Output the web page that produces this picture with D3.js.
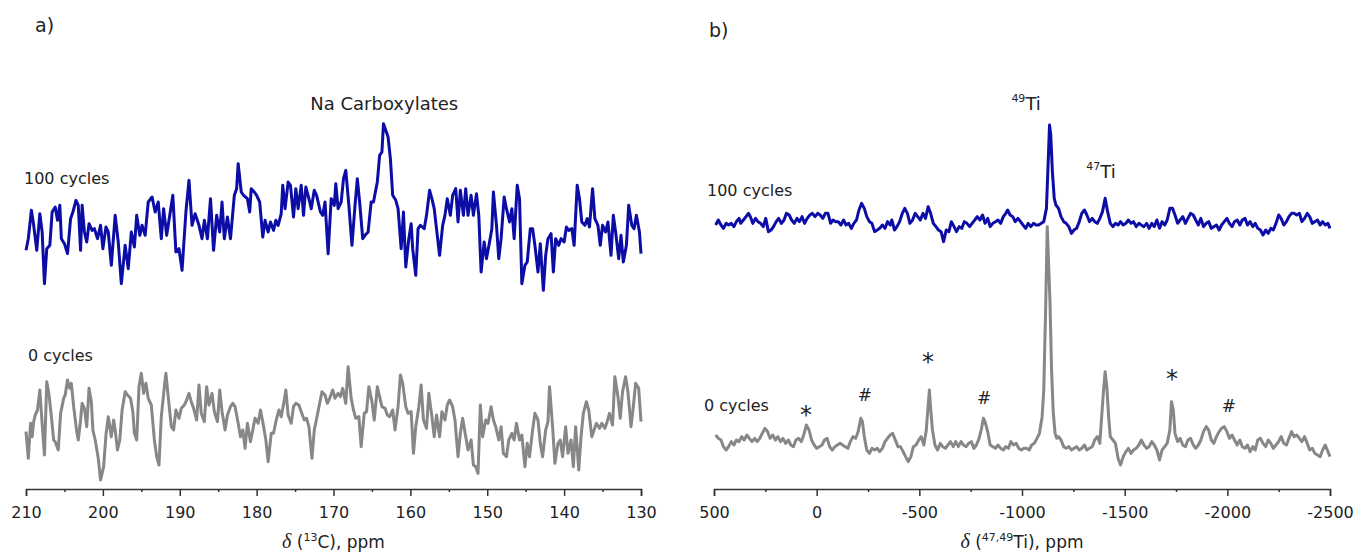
<!DOCTYPE html>
<html>
<head>
<meta charset="utf-8">
<script src="https://cdn.jsdelivr.net/npm/d3@7"></script>
<style>
  body { margin: 0; background: #fff; }
  svg text { font-family: "DejaVu Sans", Verdana, sans-serif; fill: #222; }
</style>
</head>
<body>
<div id="chart"></div>
<script>
// a) 13C spectra, 100 cycles (blue) and 0 cycles (grey)
var c13Ppm100 = [210.0,209.7,209.3,209.0,208.6,208.2,207.9,207.6,207.3,206.9,206.6,206.2,205.9,205.6,205.4,205.0,204.6,204.2,203.9,203.5,203.2,202.9,202.7,202.4,202.1,201.8,201.4,201.1,200.7,200.3,200.0,199.6,199.3,198.9,198.4,198.0,197.6,197.1,196.7,196.3,195.9,195.6,195.2,194.9,194.5,194.1,193.6,193.2,192.8,192.4,192.1,191.7,191.3,190.9,190.5,190.1,189.7,189.2,188.8,188.4,188.0,187.5,187.1,186.8,186.4,186.0,185.6,185.2,184.8,184.5,184.2,183.8,183.4,182.9,182.6,182.4,182.0,181.7,181.2,180.9,180.7,180.3,180.0,179.6,179.2,178.9,178.5,178.2,177.8,177.5,177.2,176.8,176.6,176.3,175.9,175.6,175.2,174.9,174.6,174.2,173.9,173.6,173.2,172.9,172.5,172.2,171.7,171.4,171.1,170.7,170.3,169.9,169.7,169.4,169.0,168.7,168.4,168.0,167.6,167.2,166.9,166.6,166.2,165.9,165.5,165.1,164.8,164.3,164.0,163.7,163.5,163.2,162.9,162.6,162.3,161.9,161.6,161.2,160.9,160.6,160.2,159.9,159.7,159.3,159.0,158.7,158.2,157.9,157.5,157.2,156.9,156.5,156.2,155.8,155.5,155.2,154.8,154.5,154.1,153.8,153.5,153.1,152.8,152.5,152.1,151.8,151.4,151.1,150.8,150.4,150.1,149.7,149.4,149.2,148.8,148.5,148.2,147.8,147.5,147.1,146.8,146.5,146.1,145.8,145.5,145.1,144.8,144.4,144.1,143.8,143.4,143.1,142.7,142.4,142.1,141.7,141.4,141.1,140.7,140.4,140.0,139.7,139.4,139.0,138.7,138.3,138.0,137.7,137.3,137.0,136.7,136.3,136.0,135.6,135.3,135.0,134.6,134.3,133.9,133.6,133.3,132.9,132.6,132.3,131.9,131.6,131.2,130.9,130.6,130.2,130.0];
var c13Int100 = [145,180,265,220,145,255,200,45,150,160,260,275,235,280,180,165,135,240,260,295,280,145,280,200,170,225,205,210,180,220,150,215,200,100,250,170,45,160,90,200,155,250,190,220,190,290,305,260,290,180,270,190,250,310,140,150,85,260,355,220,255,220,180,235,180,300,145,250,200,290,180,245,180,310,330,405,320,310,300,260,330,320,310,290,185,235,200,230,205,235,220,255,340,270,350,340,245,330,270,340,250,335,300,270,325,310,260,250,290,135,300,280,345,270,290,360,385,280,160,280,360,290,180,190,200,290,290,350,430,440,525,505,485,420,310,295,270,150,260,95,180,225,150,70,210,220,210,250,325,300,270,190,130,220,250,300,250,310,330,230,325,250,330,250,310,250,315,250,80,170,120,170,210,320,220,120,180,305,270,230,270,180,340,300,45,100,110,210,210,160,80,165,25,130,180,195,80,180,160,180,170,215,205,210,160,340,300,230,220,240,215,330,240,220,160,220,200,230,130,250,200,120,190,110,160,280,220,210,250,200,135];

var c13Ppm0 = [210.0,209.7,209.4,209.2,209.0,208.8,208.5,208.2,207.9,207.6,207.3,207.0,206.7,206.4,206.2,205.8,205.5,205.1,204.9,204.6,204.3,204.1,203.8,203.4,203.2,202.9,202.7,202.4,202.1,201.8,201.5,201.3,201.0,200.6,200.3,199.9,199.6,199.3,198.9,198.6,198.4,198.1,197.8,197.5,197.1,196.8,196.4,196.1,195.9,195.6,195.3,195.0,194.7,194.4,194.1,193.7,193.3,193.0,192.7,192.4,192.0,191.8,191.5,191.1,190.8,190.5,190.1,189.8,189.4,189.1,188.8,188.5,188.2,187.8,187.5,187.2,186.8,186.5,186.2,185.8,185.5,185.1,184.8,184.5,184.1,183.8,183.4,183.1,182.8,182.4,182.1,181.8,181.5,181.2,180.8,180.5,180.2,179.8,179.5,179.2,178.8,178.5,178.1,177.8,177.5,177.1,176.8,176.4,176.2,175.9,175.5,175.2,174.9,174.5,174.2,173.8,173.5,173.2,172.8,172.5,172.1,171.8,171.5,171.1,170.8,170.5,170.1,169.8,169.4,169.1,168.8,168.4,168.1,167.7,167.4,167.1,166.7,166.4,166.0,165.7,165.4,165.0,164.7,164.3,164.0,163.7,163.3,163.0,162.7,162.3,162.0,161.6,161.3,161.0,160.6,160.3,159.9,159.6,159.3,158.9,158.6,158.3,157.9,157.6,157.2,156.9,156.6,156.2,155.9,155.5,155.2,154.9,154.5,154.2,153.8,153.5,153.2,152.8,152.5,152.1,151.8,151.5,151.2,150.9,150.6,150.2,149.9,149.5,149.2,148.9,148.5,148.2,147.9,147.5,147.2,146.8,146.5,146.2,145.8,145.5,145.1,144.8,144.5,144.1,143.8,143.4,143.1,142.8,142.4,142.1,141.9,141.5,141.2,140.8,140.5,140.2,139.8,139.5,139.1,138.8,138.5,138.1,137.8,137.5,137.1,136.8,136.4,136.1,135.8,135.4,135.1,134.7,134.4,134.1,133.7,133.4,133.0,132.7,132.4,132.0,131.7,131.3,131.0,130.7,130.3,130.0];
var c13Int0 = [325,245,350,310,355,375,390,450,350,255,475,435,370,300,295,270,380,425,435,480,455,470,400,325,300,360,410,395,340,455,415,330,300,245,180,220,315,370,310,360,330,270,300,390,445,435,425,385,320,300,460,500,440,470,425,405,300,250,225,370,460,500,430,340,330,390,365,395,405,420,440,415,395,360,465,380,355,460,405,440,385,355,450,385,330,375,400,410,400,350,310,330,275,350,295,330,365,350,390,355,300,235,320,320,355,390,370,420,450,375,350,400,410,405,385,360,365,340,245,330,375,410,445,435,410,425,450,425,440,430,455,410,520,425,390,365,370,280,380,385,460,415,360,460,430,400,395,375,370,390,330,400,495,470,400,380,385,260,340,400,465,360,335,440,370,310,375,310,385,360,405,420,400,360,250,320,365,310,270,300,225,220,200,405,310,360,350,400,360,340,300,340,260,250,300,320,300,350,300,315,220,290,250,330,380,360,290,250,330,355,460,340,230,290,300,250,340,260,300,220,340,210,310,380,415,390,310,330,350,335,350,335,355,380,345,490,430,365,445,490,445,340,400,470,455,355];

// b) 47,49Ti spectra, 100 cycles (blue) and 0 cycles (grey)
var tiPpm100 = [492,479,466,454,441,429,416,403,391,378,370,357,344,332,323,311,298,286,273,260,248,235,222,210,197,185,172,159,147,134,122,109,96,84,71,59,46,33,21,8,-5,-17,-30,-42,-55,-68,-80,-93,-105,-118,-131,-143,-156,-169,-181,-194,-206,-219,-232,-244,-257,-269,-282,-295,-307,-320,-333,-345,-358,-366,-379,-391,-404,-417,-429,-442,-454,-467,-480,-492,-505,-518,-530,-543,-555,-568,-581,-593,-606,-618,-631,-644,-656,-669,-681,-694,-707,-719,-732,-745,-757,-770,-782,-795,-808,-820,-833,-845,-858,-871,-883,-896,-909,-921,-930,-942,-955,-967,-980,-993,-1005,-1018,-1030,-1043,-1056,-1068,-1081,-1094,-1106,-1119,-1127,-1134,-1140,-1148,-1157,-1165,-1178,-1190,-1203,-1215,-1228,-1241,-1253,-1266,-1279,-1291,-1304,-1316,-1329,-1342,-1354,-1367,-1379,-1392,-1405,-1417,-1430,-1443,-1455,-1468,-1480,-1493,-1506,-1518,-1531,-1543,-1556,-1569,-1581,-1594,-1607,-1619,-1632,-1644,-1657,-1670,-1682,-1695,-1707,-1720,-1733,-1745,-1758,-1770,-1783,-1796,-1808,-1821,-1834,-1846,-1859,-1871,-1884,-1897,-1909,-1922,-1934,-1947,-1960,-1972,-1985,-1998,-2010,-2023,-2035,-2048,-2061,-2073,-2086,-2098,-2111,-2124,-2136,-2148,-2161,-2174,-2187,-2199,-2212,-2224,-2237,-2250,-2262,-2275,-2288,-2300,-2313,-2325,-2338,-2351,-2363,-2376,-2389,-2401,-2414,-2426,-2439,-2452,-2464,-2477,-2490,-2500];
var tiInt100 = [220,235,220,210,225,220,225,215,230,240,225,235,245,255,245,225,240,230,225,215,240,200,205,215,230,240,225,235,255,250,235,225,240,230,245,225,240,250,255,245,255,250,240,255,255,225,235,230,230,220,235,220,225,210,225,235,265,285,270,245,230,225,200,205,210,220,210,230,220,235,205,215,230,255,270,255,225,235,255,245,235,255,240,275,255,225,215,205,200,170,205,200,230,215,200,215,210,230,225,215,225,235,245,235,250,225,240,215,225,230,235,225,245,255,265,250,245,230,240,230,220,210,225,215,225,220,220,225,230,270,400,520,490,380,300,280,270,245,230,225,215,195,205,210,230,255,265,250,230,240,230,225,240,260,300,260,225,215,225,220,230,220,225,235,225,230,215,225,220,215,225,210,225,215,235,210,230,220,235,270,270,250,225,235,245,225,240,255,250,235,220,240,215,225,230,210,215,220,205,220,230,240,225,215,230,235,220,235,240,220,230,215,225,210,205,190,205,195,210,205,225,250,240,220,230,245,255,255,250,255,230,240,255,245,225,230,235,220,230,220,225,210];

var tiPpm0 = [492,479,466,454,441,429,416,403,391,378,365,353,340,328,315,302,290,277,265,252,239,227,214,201,189,176,164,151,138,126,113,101,88,75,63,50,37,25,12,0,-13,-26,-38,-51,-63,-76,-89,-101,-114,-126,-139,-152,-164,-177,-190,-202,-215,-223,-232,-244,-257,-269,-282,-295,-307,-320,-333,-345,-358,-370,-383,-396,-408,-421,-433,-446,-459,-471,-484,-497,-509,-522,-534,-543,-549,-555,-564,-576,-589,-602,-614,-627,-639,-652,-665,-677,-690,-703,-715,-728,-740,-753,-766,-778,-791,-803,-812,-820,-833,-845,-858,-871,-883,-896,-909,-921,-934,-946,-959,-972,-984,-997,-1009,-1022,-1035,-1047,-1060,-1073,-1085,-1098,-1106,-1115,-1123,-1136,-1144,-1152,-1161,-1169,-1178,-1190,-1203,-1215,-1228,-1241,-1253,-1266,-1279,-1291,-1304,-1316,-1329,-1342,-1354,-1367,-1379,-1388,-1396,-1405,-1413,-1422,-1430,-1443,-1455,-1468,-1480,-1493,-1506,-1518,-1531,-1543,-1556,-1569,-1581,-1594,-1607,-1619,-1632,-1644,-1657,-1670,-1682,-1695,-1707,-1720,-1728,-1737,-1745,-1758,-1770,-1783,-1796,-1808,-1821,-1834,-1846,-1859,-1871,-1884,-1897,-1909,-1922,-1934,-1947,-1960,-1972,-1985,-1998,-2010,-2023,-2035,-2048,-2061,-2073,-2086,-2098,-2111,-2124,-2136,-2148,-2161,-2174,-2187,-2199,-2212,-2224,-2237,-2250,-2262,-2275,-2288,-2300,-2313,-2325,-2338,-2351,-2363,-2376,-2389,-2401,-2414,-2426,-2439,-2452,-2464,-2477,-2490,-2500];
var tiInt0 = [345,335,330,310,300,310,325,315,330,325,340,330,345,335,325,335,325,335,350,365,355,335,345,330,340,325,335,320,330,315,310,330,335,325,345,375,360,330,315,305,310,315,330,335,310,300,310,315,320,315,310,305,325,340,335,355,395,385,340,300,290,305,300,305,295,305,325,335,345,350,330,310,310,295,280,265,280,310,315,330,340,315,360,435,480,425,360,315,300,320,310,305,315,325,310,325,310,325,315,310,320,325,305,315,335,365,395,385,355,315,310,305,315,305,300,310,305,325,315,320,305,300,305,305,300,315,320,335,350,400,480,720,970,750,540,415,350,335,340,330,310,305,310,300,305,310,300,305,315,300,305,310,330,340,320,400,470,535,490,400,340,330,320,275,255,280,295,305,290,300,305,315,330,315,305,310,325,315,300,270,300,310,320,360,445,420,350,325,335,315,310,330,335,315,305,315,330,355,370,360,330,320,340,355,365,370,355,335,345,330,315,330,310,305,315,295,310,300,330,335,320,310,330,320,305,315,325,340,320,315,335,355,340,345,335,325,340,320,300,305,290,285,280,300,315,295,280];

// axis ticks
var c13Major = [210,200,190,180,170,160,150,140,130];
var c13Minor = [205,195,185,175,165,155,145,135];
var tiMajor = [500,0,-500,-1000,-1500,-2000,-2500];
var tiMinor = [250,-250,-750,-1250,-1750,-2250];

// spinning sideband / impurity markers on the 0 cycles Ti trace
var markPpm = [52,-235,-542,-815,-1731,-2008];
var markSym = ["*","#","*","#","*","#"];
var markInt = [426,465,585,456,534,432];

var blue = "#0c0ca6", grey = "#878787";
var axisY = 489;

var svg = d3.select("#chart").append("svg")
    .attr("width", 1357)
    .attr("height", 552)
    .style("background", "#fff");

var xC = d3.scaleLinear().domain([210, 130]).range([26, 641]);
var xTi = d3.scaleLinear().domain([500, -2500]).range([714, 1330]);
var yC = d3.scaleLinear().domain([0, 1500]).range([540, 40]);
var yTi = d3.scaleLinear().domain([0, 1500]).range([550, 50]);

function drawTrace(ppm, vals, x, y, offset, color) {
  var line = d3.line()
      .x(function(d) { return x(d[0]); })
      .y(function(d) { return y(d[1] + offset); });
  svg.append("path")
      .datum(d3.zip(ppm, vals))
      .attr("d", line)
      .attr("fill", "none")
      .attr("stroke", color)
      .attr("stroke-width", 3)
      .attr("stroke-linejoin", "round");
}

function drawAxis(x, major, minor) {
  var gm = svg.append("g")
      .attr("transform", "translate(0," + axisY + ")")
      .call(d3.axisBottom(x).tickValues(minor).tickSize(3).tickFormat(""));
  gm.select(".domain").remove();
  gm.selectAll("line").attr("stroke", "#333").attr("stroke-width", 1.5);

  var g = svg.append("g")
      .attr("transform", "translate(0," + axisY + ")")
      .call(d3.axisBottom(x).tickValues(major).tickSize(7).tickSizeOuter(7)
        .tickPadding(11).tickFormat(function(d) { return String(d); }));
  g.selectAll("path, line").attr("stroke", "#333").attr("stroke-width", 1.5);
  g.selectAll("text")
      .attr("font-size", 16)
      .attr("font-family", "DejaVu Sans")
      .attr("fill", "#222");
}

function axisTitle(cx, sup, rest) {
  var t = svg.append("text")
      .attr("x", cx).attr("y", 548)
      .attr("text-anchor", "middle")
      .attr("font-size", 17);
  t.append("tspan").attr("font-family", "Liberation Serif").attr("font-style", "italic")
      .attr("font-size", 20).text("\u03b4");
  t.append("tspan").text(" (");
  t.append("tspan").attr("font-size", 11).attr("dy", -7).text(sup);
  t.append("tspan").attr("dy", 7).text(rest);
}

function isoLabel(x, y, sup, el) {
  var t = svg.append("text")
      .attr("x", x).attr("y", y)
      .attr("text-anchor", "middle")
      .attr("font-size", 18);
  t.append("tspan").attr("font-size", 11).attr("dy", -8).text(sup);
  t.append("tspan").attr("dy", 8).text(el);
}

function label(x, y, txt, size) {
  svg.append("text").attr("x", x).attr("y", y)
      .attr("font-size", size).text(txt);
}

// panel a
drawTrace(c13Ppm0, c13Int0, xC, yC, 0, grey);
drawTrace(c13Ppm100, c13Int100, xC, yC, 724, blue);
drawAxis(xC, c13Major, c13Minor);
axisTitle(xC(170), "13", "C), ppm");

// panel b
drawTrace(tiPpm0, tiInt0, xTi, yTi, 0, grey);
drawTrace(tiPpm100, tiInt100, xTi, yTi, 755, blue);
drawAxis(xTi, tiMajor, tiMinor);
axisTitle(xTi(-1000), "47,49", "Ti), ppm");

// labels
label(35, 32, "a)", 19);
label(709, 37, "b)", 19);
label(24, 184, "100 cycles", 16);
label(28, 361, "0 cycles", 16);
label(707, 196, "100 cycles", 16);
label(704, 411, "0 cycles", 16);

svg.append("text")
    .attr("x", xC(163.4)).attr("y", yC(1290))
    .attr("text-anchor", "middle")
    .attr("font-size", 18)
    .text("Na Carboxylates");

isoLabel(xTi(-1020), yTi(1320), "49", "Ti");
isoLabel(xTi(-1385), yTi(1116), "47", "Ti");

svg.selectAll(".mark")
    .data(d3.zip(markPpm, markSym, markInt))
    .enter()
    .append("text")
      .attr("class", "mark")
      .attr("x", function(d) { return xTi(d[0]); })
      .attr("y", function(d) { return yTi(d[2]); })
      .attr("dy", function(d) { return d[1] === "*" ? "0.62em" : "0.36em"; })
      .attr("text-anchor", "middle")
      .attr("font-size", function(d) { return d[1] === "*" ? 24 : 17; })
      .text(function(d) { return d[1]; });
</script>
</body>
</html>
